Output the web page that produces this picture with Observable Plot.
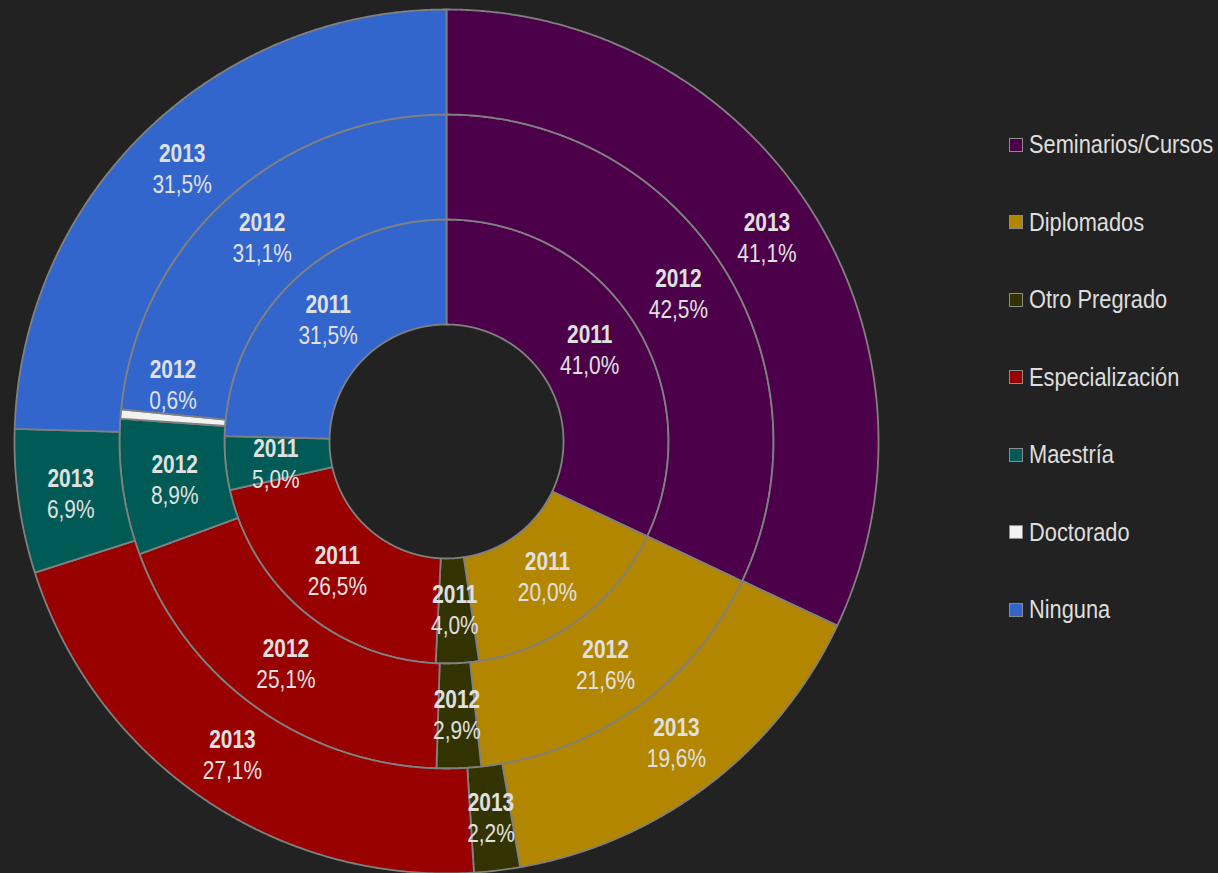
<!DOCTYPE html>
<html><head><meta charset="utf-8">
<script src="https://cdn.jsdelivr.net/npm/d3@7"></script>
<script src="https://cdn.jsdelivr.net/npm/@observablehq/plot@0.6"></script>
<style>
html,body{margin:0;padding:0;background:#222222;}
#wrap{position:relative;width:1218px;height:873px;overflow:hidden;background:#222222;}
#wrap svg{position:absolute;left:0;top:0;}
#legend{position:absolute;left:1009px;top:106px;font-family:"Liberation Sans",Arial,sans-serif;font-size:26.6px;color:#dedede;}
.item{height:77.5px;display:flex;align-items:center;white-space:nowrap;}
.sw{width:14px;height:14px;box-sizing:border-box;border:1.5px solid #8c8c8c;margin-right:6px;flex:none;}
.tx{display:inline-block;transform:scaleX(0.82);transform-origin:0 50%;}
</style></head><body>
<div id="wrap"><div id="legend"></div></div>
<script>
const categories = ["Seminarios/Cursos","Diplomados","Otro Pregrado","Especialización","Maestría","Doctorado","Ninguna"];
const colors = ["#4c0049","#b38600","#333300","#990000","#005a55","#f2f2f2","#3366cc"];
const years = ["2011","2012","2013"];
const values2011 = [41.0, 20.0, 4.0, 26.5, 5.0, 0, 31.5];
const values2012 = [42.5, 21.6, 2.9, 25.1, 8.9, 0.6, 31.1];
const values2013 = [41.1, 19.6, 2.2, 27.1, 6.9, 0, 31.5];

const series = [values2011, values2012, values2013];
const PX = 432;              // pixels per unit radius
const hole = 117 / PX;
const ringW = (1 - hole) / 3;
// label nudges (px) for crowded small slices
const labelNudge = {"2011-4": [-2, 6], "2012-5": [0, -33]};

const rows = [], labels = [];
series.forEach((vals, i) => {
  const total = d3.sum(vals);
  const r0 = hole + i * ringW, r1 = r0 + ringW;
  let cum = 0;
  vals.forEach((v, j) => {
    const a0 = cum / total * 2 * Math.PI; cum += v;
    const a1 = cum / total * 2 * Math.PI;
    if (v <= 0) return;
    const id = years[i] + "-" + j, cat = categories[j];
    const n = Math.max(2, Math.ceil((a1 - a0) / (Math.PI / 720)));
    const pts = [];
    for (let k = 0; k <= n; k++) { const a = a0 + (a1 - a0) * k / n; pts.push([r1 * Math.sin(a), r1 * Math.cos(a)]); }
    for (let k = n; k >= 0; k--) { const a = a0 + (a1 - a0) * k / n; pts.push([r0 * Math.sin(a), r0 * Math.cos(a)]); }
    pts.push(pts[0]);
    pts.forEach(p => rows.push({id, cat, x: p[0], y: p[1]}));
    const am = (a0 + a1) / 2, rm = (r0 + r1) / 2;
    const nd = labelNudge[id] || [0, 0];
    labels.push({
      year: years[i],
      pct: v.toFixed(1).replace(".", ",") + "%",
      x: rm * Math.sin(am) + nd[0] / PX,
      y: rm * Math.cos(am) - nd[1] / PX
    });
  });
});

const font = '"Liberation Sans",Arial,sans-serif';
const chart = Plot.plot({
  width: 1218, height: 873,
  marginLeft: 14, marginRight: 340, marginTop: 9, marginBottom: 0,
  x: {domain: [-1, 1], axis: null},
  y: {domain: [-1, 1], axis: null},
  color: {domain: categories, range: colors},
  style: {background: "transparent", overflow: "visible"},
  marks: [
    Plot.line(rows, {x: "x", y: "y", z: "id", fill: "cat", stroke: "#808080", strokeWidth: 1.8, curve: "linear"}),
    Plot.text(labels, {x: "x", y: "y", text: "year", dy: -15.5, fill: "#e0e0e0", fontSize: 25.5, fontWeight: "bold", fontFamily: font}),
    Plot.text(labels, {x: "x", y: "y", text: "pct", dy: 15.5, fill: "#e0e0e0", fontSize: 25.5, fontFamily: font})
  ]
});
// condensed look (Arial Narrow-like) for the data labels
chart.querySelectorAll("text").forEach(t => {
  const tr = t.getAttribute("transform") || "";
  t.setAttribute("transform", tr + " scale(0.82,1)");
});
const wrap = document.getElementById("wrap");
wrap.insertBefore(chart, wrap.firstChild);

const legend = document.getElementById("legend");
categories.forEach((c, i) => {
  const it = document.createElement("div"); it.className = "item";
  const sw = document.createElement("span"); sw.className = "sw"; sw.style.background = colors[i];
  const tx = document.createElement("span"); tx.className = "tx"; tx.textContent = c;
  it.appendChild(sw); it.appendChild(tx); legend.appendChild(it);
});
</script>
</body></html>
